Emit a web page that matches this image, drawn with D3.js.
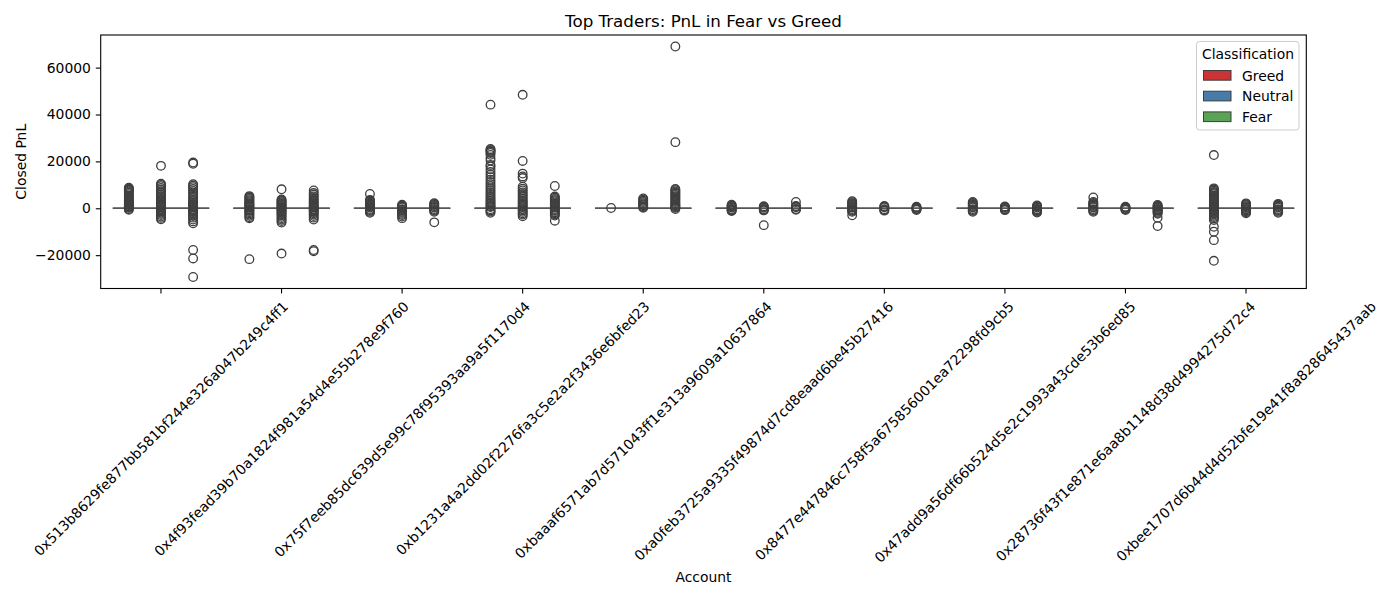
<!DOCTYPE html>
<html>
<head>
<meta charset="utf-8">
<script src="https://cdn.jsdelivr.net/npm/d3@7"></script>
<style>
  body { margin: 0; background: #fff; }
  svg text { font-family: "DejaVu Sans", sans-serif; }
</style>
</head>
<body>
<div id="graph-container"></div>
<script>
const accounts = [
  '0x513b8629fe877bb581bf244e326a047b249c4ff1',
  '0x4f93fead39b70a1824f981a54d4e55b278e9f760',
  '0x75f7eeb85dc639d5e99c78f95393aa9a5f1170d4',
  '0xb1231a4a2dd02f2276fa3c5e2a2f3436e6bfed23',
  '0xbaaaf6571ab7d571043ff1e313a9609a10637864',
  '0xa0feb3725a9335f49874d7cd8eaad6be45b27416',
  '0x8477e447846c758f5a675856001ea72298fd9cb5',
  '0x47add9a56df66b524d5e2c1993a43cde53b6ed85',
  '0x28736f43f1e871e6aa8b1148d38d4994275d72c4',
  '0xbee1707d6b44d4d52bfe19e41f8a828645437aab'
];

const classes = ['Greed', 'Neutral', 'Fear'];
const classColors = ['#cb3335', '#477ca8', '#59a256'];

// [q1, median, q3] per account -- the boxes are flat at zero
const greedBox = [[0,0,0],[0,0,0],[0,0,0],[0,0,0],[0,0,0],[0,0,0],[0,0,0],[0,0,0],[0,0,0],[0,0,0]];
const neutralBox = [[0,0,0],[0,0,0],[0,0,0],[0,0,0],[0,0,0],[0,0,0],[0,0,0],[0,0,0],[0,0,0],[0,0,0]];
const fearBox = [[0,0,0],[0,0,0],[0,0,0],[0,0,0],[0,0,0],[0,0,0],[0,0,0],[0,0,0],[0,0,0],[0,0,0]];

// outliers (closed PnL) per account
const greedOut = [
  [8800, 8400, 8000, 7600, 7200, 6600, 6000, 5400, 4800, 4300, 3800, 3300, 2900, 2500, 2100, 1700, 1400, 1100, 800, 600, 400, 250, -300, -600],
  [5200, 4800, 4400, 4000, 3500, 3000, 2600, 2200, 1800, 1400, 1000, 700, 400, -400, -800, -1200, -1700, -2200, -2700, -3200, -3800, -4300, -21700],
  [6100, 3600, 3200, 2800, 2400, 2000, 1600, 1200, 900, 600, 300, -300, -700, -1100, -1500, -1900],
  [44200, 25300, 24900, 24500, 24100, 23600, 22800, 21500, 20400, 18500, 17800, 16600, 15500, 14400, 13300, 12200, 11200, 10300, 9400, 8500, 7700, 6900, 6100, 5300, 4600, 3900, 3200, 2600, 2000, 1400, 900, 500, -400, -900, -1400, -1900],
  [120],
  [1500, 1200, 900, 600, 300, -300, -600, -900, -1200],
  [3000, 2600, 2200, 1800, 1400, 1000, 600, 300, -300, -700, -1100, -1500, -3000],
  [2700, 2300, 1900, 1500, 1100, 700, 350, -350, -700, -1100, -1500],
  [4600, 2700, 2300, 1900, 1500, 1100, 700, 350, -350, -700, -1100, -1500],
  [22700, 8500, 8000, 7500, 7000, 6500, 6000, 5400, 4800, 4200, 3700, 3200, 2700, 2200, 1800, 1400, 1000, 600, 300, -300, -600, -1000, -1400, -1800, -2200, -2700, -3200, -3700, -4300, -5000, -7900, -10000, -13600, -22400]
];

const neutralOut = [
  [18100, 10500, 10000, 9400, 8700, 8000, 7300, 6600, 5900, 5200, 4600, 4000, 3400, 2900, 2400, 1900, 1500, 1100, 700, 400, -400, -800, -1300, -1800, -2300, -2900, -3500, -4100, -4700],
  [8100, 3800, 3400, 3000, 2600, 2200, 1800, 1400, 1000, 600, 300, -300, -700, -1100, -1500, -2000, -2500, -3000, -3600, -4200, -4800, -5400, -6100, -19300],
  [1500, 1100, 700, 350, -350, -700, -1100, -1500, -1900, -2400, -2900, -3500, -4200],
  [48400, 20200, 14800, 13600, 12900, 9200, 8400, 7600, 6800, 6100, 5400, 4700, 4000, 3300, 2700, 2100, 1500, 1000, 500, -400, -900, -1500, -2100, -2700, -3400],
  [4200, 3700, 3200, 2700, 2200, 1700, 1300, 900, 500, 200],
  [900, 600, 300, -300, -600, -900, -7200],
  [1000, 700, 400, -400, -700, -1000],
  [800, 500, 250, -250, -500, -800],
  [700, 400, 200, -200, -400, -700],
  [2100, 1700, 1300, 900, 500, 250, -250, -500, -900, -1300, -1700, -2100]
];

const fearOut = [
  [19500, 19000, 10300, 9700, 9000, 8200, 7400, 6600, 5800, 5000, 4300, 3600, 3000, 2400, 1900, 1400, 1000, 600, 300, -300, -700, -1100, -1600, -2100, -2700, -3300, -4000, -4800, -5600, -6400, -17800, -21400, -29300],
  [7600, 6500, 5800, 5100, 4400, 3800, 3200, 2600, 2100, 1600, 1100, 700, 300, -300, -700, -1100, -1600, -2100, -2700, -3300, -4000, -4800, -17800, -18300],
  [2200, 1800, 1400, 1000, 600, 300, -300, -700, -1100, -1500, -6000],
  [9500, 5000, 4500, 4000, 3500, 3000, 2500, 2000, 1500, 1000, 600, 300, -300, -700, -1100, -1600, -2100, -2600, -3100, -5300],
  [69000, 28200, 8200, 7700, 7200, 6700, 6200, 5700, 5200, 4700, 4200, 3700, 3200, 2700, 2200, 1700, 1300, 900, 500, 200, -300],
  [2700, 1000, 700, 400, -300, -600],
  [700, 400, 200, -200, -400, -700],
  [1200, 900, 600, 300, -300, -600, -900, -1200, -1500, -1800],
  [1400, 1100, 800, 500, 250, -250, -500, -800, -1100, -1500, -1900, -2300, -4000, -7600],
  [1900, 1500, 1100, 700, 350, -350, -700, -1100, -1500, -1900]
];

const yTicks = [-20000, 0, 20000, 40000, 60000];

const WIDTH = 1400;
const HEIGHT = 600;
const LEFT = 100.7;
const RIGHT = 1306.3;
const TOP = 35;
const BOTTOM = 288.5;
const LINE = '#3f3f3f';
const TICK = 4.9;

const boxes = [greedBox, neutralBox, fearBox];
const outliers = [greedOut, neutralOut, fearOut];

const createBoxPlot = () => {
  const svg = d3.select('#graph-container')
                .append('svg')
                .attr('width', WIDTH)
                .attr('height', HEIGHT);

  const allVals = outliers.flat(2).concat(boxes.flat(2));
  const [lo, hi] = d3.extent(allVals);
  const pad = (hi - lo) * 0.05;

  const xScale = d3.scaleBand()
                   .domain(accounts)
                   .range([LEFT, RIGHT])
                   .padding(0);
  const bw = xScale.bandwidth();

  const hueScale = d3.scaleBand()
                     .domain(classes)
                     .range([-0.4 * bw, 0.4 * bw])
                     .padding(0);

  const yScale = d3.scaleLinear()
                   .domain([lo - pad, hi + pad])
                   .range([BOTTOM, TOP]);

  // boxes + fliers
  classes.forEach((cls, ci) => {
    const g = svg.append('g').attr('class', 'hue ' + cls);
    accounts.forEach((acc, ai) => {
      const [q1, med, q3] = boxes[ci][ai];
      const x0 = xScale(acc) + bw / 2 + hueScale(cls);
      const x1 = x0 + hueScale.bandwidth();
      g.append('path')
       .attr('d', `M${x0},${yScale(q1)}H${x1}V${yScale(q3)}H${x0}Z`)
       .attr('fill', classColors[ci])
       .attr('stroke', '#555')
       .attr('stroke-width', 1.4);
      g.append('line')
       .attr('x1', x0).attr('x2', x1)
       .attr('y1', yScale(med)).attr('y2', yScale(med))
       .attr('stroke', '#555')
       .attr('stroke-width', 1.4);

      g.selectAll(null)
       .data(outliers[ci][ai])
       .enter()
       .append('circle')
       .attr('cx', (x0 + x1) / 2)
       .attr('cy', d => yScale(d))
       .attr('r', 4.3)
       .attr('fill', 'none')
       .attr('stroke', LINE)
       .attr('stroke-width', 1.3);
    });
  });

  // frame
  svg.append('rect')
     .attr('x', LEFT).attr('y', TOP)
     .attr('width', RIGHT - LEFT).attr('height', BOTTOM - TOP)
     .attr('fill', 'none')
     .attr('stroke', '#000')
     .attr('stroke-width', 1.1);

  const xAx = svg.append('g')
     .attr('transform', `translate(0, ${BOTTOM})`)
     .call(d3.axisBottom(xScale).tickSize(TICK).tickSizeOuter(0));
  xAx.select('.domain').remove();
  xAx.selectAll('line').attr('stroke', '#000').attr('stroke-width', 1.1);
  xAx.selectAll('text')
     .attr('font-family', 'DejaVu Sans')
     .attr('font-size', 13.9)
     .attr('fill', '#000')
     .attr('text-anchor', 'middle')
     .attr('dominant-baseline', 'central')
     .attr('y', 0)
     .attr('dy', null)
     .each(function() {
       const len = this.getComputedTextLength();
       const off = TICK + 4.9 + (len + 16) * 0.3536;
       d3.select(this).attr('transform', `translate(0, ${off}) rotate(-45)`);
     });

  const yAx = svg.append('g')
     .attr('transform', `translate(${LEFT}, 0)`)
     .call(d3.axisLeft(yScale)
             .tickValues(yTicks)
             .tickFormat(d3.format('d'))
             .tickSize(TICK)
             .tickPadding(4.9)
             .tickSizeOuter(0));
  yAx.select('.domain').remove();
  yAx.selectAll('line').attr('stroke', '#000').attr('stroke-width', 1.1);
  yAx.selectAll('text')
     .attr('font-family', 'DejaVu Sans')
     .attr('font-size', 13.9)
     .attr('fill', '#000');

  // titles
  svg.append('text')
     .attr('x', (LEFT + RIGHT) / 2)
     .attr('y', 21)
     .attr('text-anchor', 'middle')
     .attr('dominant-baseline', 'central')
     .attr('font-size', 16.7)
     .text('Top Traders: PnL in Fear vs Greed');

  svg.append('text')
     .attr('x', (LEFT + RIGHT) / 2)
     .attr('y', 577)
     .attr('text-anchor', 'middle')
     .attr('dominant-baseline', 'central')
     .attr('font-size', 13.9)
     .text('Account');

  svg.append('text')
     .attr('transform', `translate(21, ${(TOP + BOTTOM) / 2}) rotate(-90)`)
     .attr('text-anchor', 'middle')
     .attr('dominant-baseline', 'central')
     .attr('font-size', 13.9)
     .text('Closed PnL');

  // legend
  const legend = svg.append('g').attr('transform', 'translate(1196.5, 41.5)');
  legend.append('rect')
        .attr('width', 102.5).attr('height', 88.5)
        .attr('rx', 3)
        .attr('fill', '#fff').attr('fill-opacity', 0.8)
        .attr('stroke', '#cccccc');
  legend.append('text')
        .attr('x', 51.5).attr('y', 12.5)
        .attr('text-anchor', 'middle')
        .attr('dominant-baseline', 'central')
        .attr('font-size', 13.9)
        .text('Classification');
  const items = legend.selectAll('g.item')
        .data(classes)
        .enter()
        .append('g')
        .attr('class', 'item')
        .attr('transform', (d, i) => `translate(0, ${34 + i * 20.7})`);
  items.append('rect')
       .attr('x', 7).attr('y', -5)
       .attr('width', 27.5).attr('height', 9.7)
       .attr('fill', (d, i) => classColors[i])
       .attr('stroke', LINE)
       .attr('stroke-width', 1);
  items.append('text')
       .attr('x', 45.5).attr('y', 0)
       .attr('dominant-baseline', 'central')
       .attr('font-size', 13.9)
       .text(d => d);
};

createBoxPlot();
</script>
</body>
</html>
